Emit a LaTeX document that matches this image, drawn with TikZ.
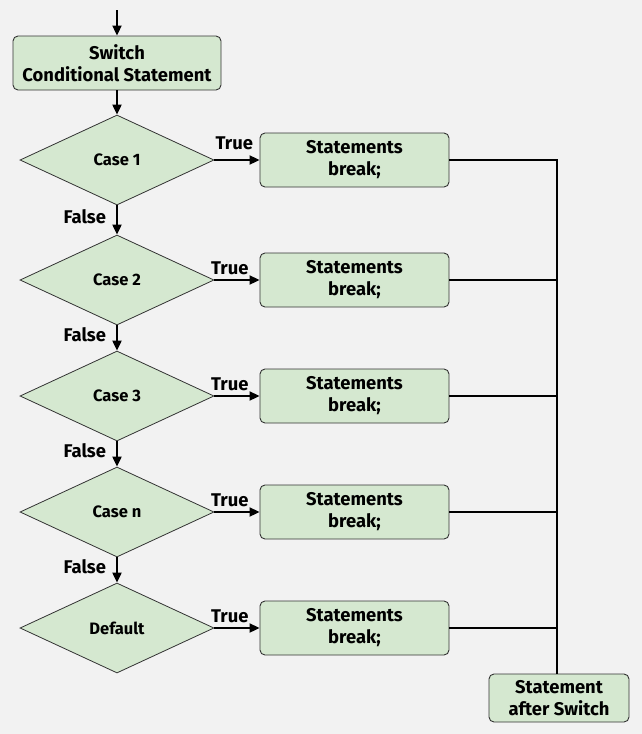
\documentclass[tikz,border=0pt]{standalone}
\usepackage{fontspec}
\setmainfont{Fira Sans}
\usetikzlibrary{shapes.geometric,arrows.meta}
\definecolor{bg}{HTML}{F2F2F2}
\definecolor{boxfill}{HTML}{D5E8D0}
\definecolor{boxdraw}{HTML}{333333}
\tikzset{
  box/.style={draw=boxdraw,fill=boxfill,rounded corners=5pt,line width=0.9pt,align=center,inner sep=0pt,font=\fontsize{18.4}{22}\selectfont\bfseries},
  dia/.style={draw=boxdraw,fill=boxfill,diamond,aspect=2.1556,minimum width=194pt,minimum height=90pt,inner sep=0pt,line width=0.8pt,font=\fontsize{16.5}{19}\selectfont\bfseries},
  arr/.style={line width=2pt,-{Triangle[length=10pt,width=9pt]}},
  ln/.style={line width=2pt},
  lbl/.style={font=\fontsize{18.4}{22}\selectfont\bfseries,inner sep=1pt}
}
\begin{document}
\begin{tikzpicture}[x=1pt,y=-1pt]
\fill[bg] (0,0) rectangle (642,734);
\useasboundingbox (0,0) rectangle (642,734);
\coordinate (start) at (117,10);
\node[box,minimum width=208pt,minimum height=54pt] (sw) at (117,63) {Switch\\Conditional Statement};
\node[dia] (c1) at (117,160) {Case 1};
\node[dia] (c2) at (117,280) {Case 2};
\node[dia] (c3) at (117,396) {Case 3};
\node[dia] (cn) at (117,512) {Case n};
\node[dia] (cd) at (117,628) {Default};
\foreach \n/\y in {s1/160,s2/280,s3/396,sn/512,sd/628}
  \node[box,minimum width=189pt,minimum height=54pt] (\n) at (354.5,\y) {Statements\\break;};
\node[box,minimum width=140pt,minimum height=48pt] (after) at (559,698) {Statement\\after Switch};
\draw[arr] (start) -- (sw.north);
\draw[arr] (sw.south) -- (c1.north);
\tikzset{fl/.style={lbl,left,pos=0.37,xshift=-9pt}, tr/.style={lbl,above,yshift=3pt}}
\draw[arr] (c1.south) -- node[fl]{False} (c2.north);
\draw[arr] (c2.south) -- node[fl]{False} (c3.north);
\draw[arr] (c3.south) -- node[fl]{False} (cn.north);
\draw[arr] (cn.south) -- node[fl]{False} (cd.north);
\draw[arr] (c1.east) -- node[tr,pos=0.44,yshift=5pt]{True} (s1.west);
\draw[arr] (c2.east) -- node[tr,pos=0.34]{True} (s2.west);
\draw[arr] (c3.east) -- node[tr,pos=0.34]{True} (s3.west);
\draw[arr] (cn.east) -- node[tr,pos=0.34]{True} (sn.west);
\draw[arr] (cd.east) -- node[tr,pos=0.34]{True} (sd.west);
\coordinate (j1) at (557,160);
\draw[ln] (s1.east) -- (j1) -- (j1 |- after.north);
\foreach \n in {s2,s3,sn,sd}
  \draw[ln] (\n.east) -- (\n.east -| j1);
\end{tikzpicture}
\end{document}
